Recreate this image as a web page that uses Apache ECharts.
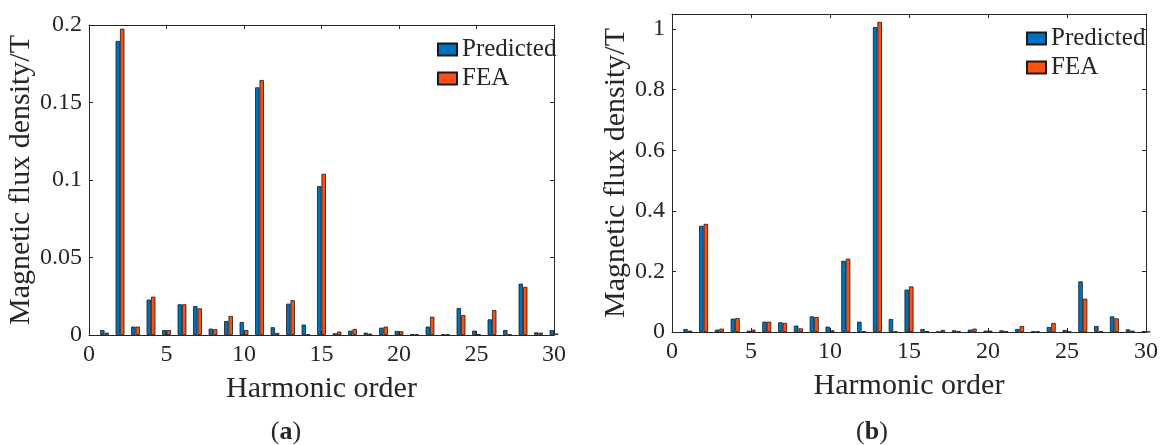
<!DOCTYPE html>
<html><head><meta charset="utf-8">
<script src="https://cdn.jsdelivr.net/npm/echarts@6/dist/echarts.min.js"></script>
<style>html,body{margin:0;padding:0;background:#fff}#c{width:1165px;height:445px}</style>
</head><body><div id="c"></div>
<script>
// ---- data ----
const harmonics = [1,2,3,4,5,6,7,8,9,10,11,12,13,14,15,16,17,18,19,20,21,22,23,24,25,26,27,28,29,30];
const predictedA = [0.0032,0.1897,0.0054,0.0228,0.0032,0.0198,0.0187,0.0041,0.0090,0.0084,0.1598,0.0050,0.0202,0.0067,0.0961,0.0011,0.0028,0.0015,0.0047,0.0026,0.0006,0.0054,0.0004,0.0174,0.0028,0.0101,0.0032,0.0331,0.0017,0.0032];
const feaA       = [0.0015,0.1976,0.0054,0.0247,0.0032,0.0198,0.0172,0.0037,0.0123,0.0032,0.1645,0.0013,0.0224,0.0004,0.1040,0.0022,0.0039,0.0009,0.0054,0.0024,0.0004,0.0118,0.0004,0.0129,0.0006,0.0161,0.0004,0.0310,0.0015,0.0010];
const predictedB = [0.0099,0.3505,0.0077,0.0440,0.0044,0.0340,0.0320,0.0210,0.0516,0.0176,0.2350,0.0340,1.0066,0.0430,0.1400,0.0099,0.0010,0.0055,0.0077,0.0044,0.0055,0.0099,0.0020,0.0165,0.0066,0.1670,0.0198,0.0516,0.0088,0.0030];
const feaB       = [0.0044,0.3570,0.0110,0.0460,0.0077,0.0340,0.0300,0.0120,0.0495,0.0055,0.2420,0.0020,1.0240,0.0020,0.1505,0.0030,0.0066,0.0030,0.0110,0.0044,0.0030,0.0198,0.0020,0.0297,0.0010,0.1100,0.0020,0.0450,0.0044,0.0010];
const xTicks  = [0,5,10,15,20,25,30];
const yTicksA = [0,0.05,0.1,0.15,0.2];
const yTicksB = [0,0.2,0.4,0.6,0.8,1];
const seriesNames = ['Predicted','FEA'];
const xTitle = 'Harmonic order';
const yTitle = 'Magnetic flux density/T';
const captions = ['a','b'];

// ---- style ----
const FONT = 'Liberation Serif';
const INK = '#262626';
const BLUE = '#0072BD';
const ORANGE = '#FA5014';

const chart = echarts.init(document.getElementById('c'), null, {renderer:'canvas'});

function fmt(ticks){ return v => ticks.some(t => Math.abs(t - v) < 1e-9) ? String(+v.toFixed(4)) : ''; }

const grids = [
  {left: 89, top: 25, width: 465, height: 310},
  {left: 672, top: 14, width: 474, height: 318}
];
const yMax = [0.2, 1.05];
const yInt = [0.05, 0.2];
const yTicks = [yTicksA, yTicksB];
const dataSets = [[predictedA, feaA],[predictedB, feaB]];

const xAxes = [], yAxes = [], series = [];
grids.forEach((g, gi) => {
  const lineStyle = {color: INK, width: 1};
  xAxes.push({
    type:'value', gridIndex: gi, position:'bottom', min:0, max:30, interval:5,
    name: xTitle, nameLocation:'middle', nameGap: 39,
    nameTextStyle:{fontFamily:FONT, fontSize:30, color:INK},
    axisLine:{show:true, onZero:false, lineStyle},
    axisTick:{show:true, inside:true, length:4, lineStyle},
    axisLabel:{fontFamily:FONT, fontSize:24, color:INK, margin:8, formatter: fmt(xTicks)},
    splitLine:{show:false}
  });
  xAxes.push({
    type:'value', gridIndex: gi, position:'top', min:0, max:30, interval:5,
    axisLine:{show:true, onZero:false, lineStyle},
    axisTick:{show:true, inside:true, length:4, lineStyle},
    axisLabel:{show:false}, splitLine:{show:false}
  });
  yAxes.push({
    type:'value', gridIndex: gi, position:'left', min:0, max:yMax[gi], interval:yInt[gi],
    name: yTitle, nameLocation:'middle', nameGap: gi === 0 ? 45 : 41, nameRotate: 90,
    nameTextStyle:{fontFamily:FONT, fontSize:30, color:INK},
    axisLine:{show:true, onZero:false, lineStyle},
    axisTick:{show:true, inside:true, length:4, lineStyle},
    axisLabel:{fontFamily:FONT, fontSize:24, color:INK, margin:7, formatter: fmt(yTicks[gi])},
    splitLine:{show:false}
  });
  yAxes.push({
    type:'value', gridIndex: gi, position:'right', min:0, max:yMax[gi], interval:yInt[gi],
    axisLine:{show:true, onZero:false, lineStyle},
    axisTick:{show:true, inside:true, length:4, lineStyle},
    axisLabel:{show:false}, splitLine:{show:false}
  });
  const bw = gi === 0 ? 4.4 : 4.5;
  [BLUE, ORANGE].forEach((col, si) => {
    series.push({
      type:'bar', name: seriesNames[si], xAxisIndex: gi*2, yAxisIndex: gi*2,
      barWidth: bw, barGap:'0%',
      itemStyle:{color: col, borderColor:'#1a1a1a', borderWidth:0.8},
      data: harmonics.map((h, i) => [h, dataSets[gi][si][i]]),
      animation:false
    });
  });
});

const legendBase = {
  orient:'vertical', icon:'rect', itemWidth:19, itemHeight:12, itemGap:4,
  textStyle:{fontFamily:FONT, fontSize:25, color:INK},
  data: seriesNames, selectedMode:false
};

chart.setOption({
  animation:false,
  grid: grids,
  xAxis: xAxes,
  yAxis: yAxes,
  legend: [
    Object.assign({left: 432, top: 32}, legendBase),
    Object.assign({left: 1021, top: 21}, legendBase)
  ],
  series,
  graphic: captions.map((c, i) => ({
    type:'text', x: i === 0 ? 286 : 872, y: 432,
    style:{
      text: '{n|(}{b|' + c + '}{n|)}',
      rich:{n:{fontFamily:FONT, fontSize:26, fill:INK}, b:{fontFamily:FONT, fontSize:26, fontWeight:'bold', fill:INK}},
      align:'center', verticalAlign:'middle'
    }
  }))
});
</script></body></html>
